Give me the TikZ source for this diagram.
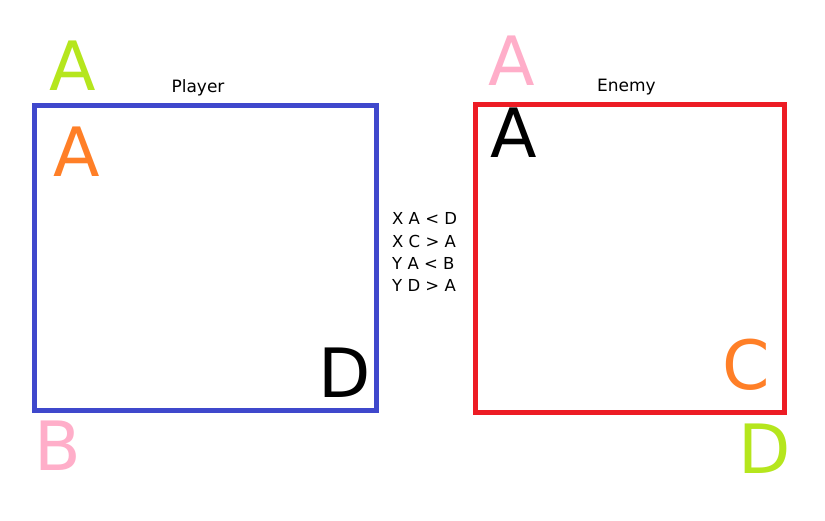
\documentclass[tikz,border=0pt]{standalone}
\usepackage{fontspec}
\setmainfont{DejaVu Sans}
\definecolor{plime}{HTML}{B5E61D}
\definecolor{porange}{HTML}{FF7F27}
\definecolor{ppink}{HTML}{FFAEC9}
\definecolor{pblue}{HTML}{3F48CC}
\definecolor{pred}{HTML}{ED1C24}
\tikzset{
  big/.style={inner sep=0pt, anchor=base, font=\fontsize{68}{68}\selectfont},
  small/.style={inner sep=0pt, anchor=base, font=\fontsize{17}{17}\selectfont},
  rule/.style={inner sep=0pt, anchor=base west, font=\fontsize{16.5}{16.5}\selectfont},
  frame/.style={line width=5pt}
}
\begin{document}
\begin{tikzpicture}[x=1pt,y=-1pt]
\useasboundingbox[fill=white] (0,0) rectangle (825,521);
\draw[frame, pblue] (34.5,105.5) rectangle (376.5,410.5);
\draw[frame, pred] (475.5,104.5) rectangle (784.5,412.5);
% player side
\node[big, text=plime] (pa1) at (73,91) {A};
\node[big, text=porange] (pa2) at (76.5,177) {A};
\node[big, text=black] (pd) at (345,398) {D};
\node[big, text=ppink] (pb) at (58,470) {B};
\node[small] (player) at (198,93) {Player};
% enemy side
\node[big, text=ppink] (ea1) at (511.5,86) {A};
\node[big, text=black] (ea2) at (514,158) {A};
\node[big, text=porange] (ec) at (746,389) {C};
\node[big, text=plime] (ed) at (764.5,473) {D};
\node[small] (enemy) at (626.5,92) {Enemy};
% rules
\node[rule] (m1) at (392,225) {X A < D};
\node[rule] (m2) at (392,247.3) {X C > A};
\node[rule] (m3) at (392,269.6) {Y A < B};
\node[rule] (m4) at (392,292) {Y D > A};
\end{tikzpicture}
\end{document}
